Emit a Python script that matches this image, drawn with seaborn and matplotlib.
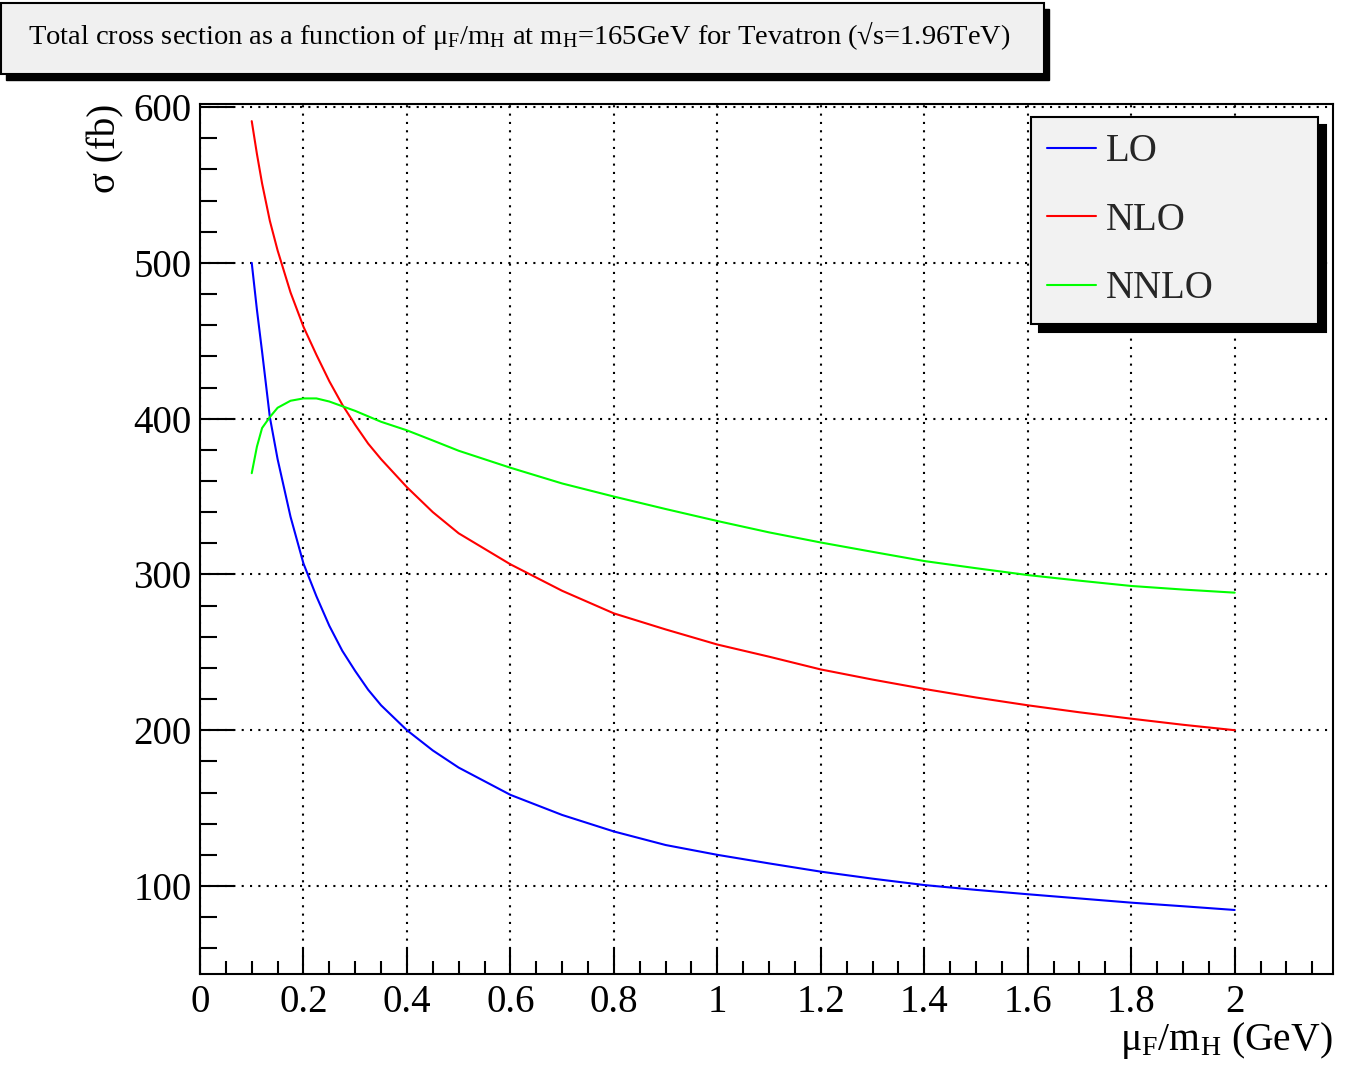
import numpy as np
import pandas as pd
import matplotlib
matplotlib.use("Agg")
import matplotlib.pyplot as plt
from matplotlib.patches import Rectangle
from matplotlib.ticker import MultipleLocator, FuncFormatter
import seaborn as sns

# scale ratio mu_F / m_H
mu_ratio = [0.10, 0.11, 0.12, 0.135, 0.15, 0.175, 0.20, 0.225, 0.25, 0.275,
            0.30, 0.325, 0.35, 0.40, 0.45, 0.50, 0.60, 0.70, 0.80, 0.90, 1.00,
            1.10, 1.20, 1.30, 1.40, 1.50, 1.60, 1.70, 1.80, 1.90, 2.00]

# total cross sections (fb)
sigma_lo = [500, 470, 443, 401, 374, 337, 307, 286, 267, 251,
            238, 226, 216, 200, 187, 176, 158.5, 145.6, 135, 126.3, 120,
            114.5, 109.2, 104.7, 100.6, 97.5, 94.7, 92, 89.3, 87, 84.6]
sigma_nlo = [591, 570, 551, 527, 508, 481, 459, 441, 424, 409,
             396, 384, 374, 356, 340, 326.4, 306.5, 289.5, 275, 264.7, 255,
             247.2, 239, 232.5, 226.5, 221, 216, 211.5, 207.4, 203.5, 200]
sigma_nnlo = [365, 382, 394, 401, 407, 411.5, 413, 413, 411, 408,
              405, 401.5, 398, 392.5, 386, 379.4, 368.5, 358.4, 350, 342, 334.3,
              327, 320.5, 314.5, 308.6, 304, 299.6, 296, 292.6, 290.3, 288.3]

orders = ["LO", "NLO", "NNLO"]
order_colors = {"LO": "#0000ff", "NLO": "#ff0000", "NNLO": "#00ff00"}

title_text = (r"Total cross section as a function of μ$_{\mathrm{F}}$/m$_{\mathrm{H}}$"
              r" at m$_{\mathrm{H}}$=165GeV for Tevatron (√s=1.96TeV)")
x_label = r"μ$_{\mathrm{F}}$/m$_{\mathrm{H}}$ (GeV)"
y_label = "σ (fb)"

df = pd.concat([
    pd.DataFrame({"mu": mu_ratio, "sigma": vals, "order": name})
    for name, vals in zip(orders, [sigma_lo, sigma_nlo, sigma_nnlo])
], ignore_index=True)

sns.set_theme(style="white")
plt.rcParams["font.family"] = ["Liberation Serif", "DejaVu Serif"]
plt.rcParams["mathtext.fontset"] = "custom"
plt.rcParams["mathtext.rm"] = "Liberation Serif"
plt.rcParams["mathtext.it"] = "Liberation Serif:italic"
plt.rcParams["mathtext.bf"] = "Liberation Serif:bold"

W, H = 1348, 1068
fig = plt.figure(figsize=(W / 100, H / 100), dpi=100)
fig.patch.set_facecolor("white")
ax = fig.add_axes([200 / W, 1 - 974 / H, 1133 / W, 870 / H])

sns.lineplot(data=df, x="mu", y="sigma", hue="order", hue_order=orders,
             palette=order_colors, linewidth=1.5, errorbar=None, ax=ax)

ax.set_xlim(0, 2.19)
ax.set_ylim(43.5, 602)

ax.xaxis.set_major_locator(MultipleLocator(0.2))
ax.xaxis.set_minor_locator(MultipleLocator(0.05))
ax.yaxis.set_major_locator(MultipleLocator(100))
ax.yaxis.set_minor_locator(MultipleLocator(20))
ax.xaxis.set_major_formatter(FuncFormatter(lambda v, p: f"{v:g}"))
ax.yaxis.set_major_formatter(FuncFormatter(lambda v, p: f"{v:g}"))

ax.tick_params(axis="both", which="both", direction="in", color="black",
               width=1.5, labelsize=28, labelcolor="black",
               bottom=True, left=True, top=False, right=False)
ax.tick_params(axis="x", which="major", length=18.7, pad=7)
ax.tick_params(axis="x", which="minor", length=9.4)
ax.tick_params(axis="y", which="major", length=24.5, pad=6)
ax.tick_params(axis="y", which="minor", length=12.2)

ax.grid(True, which="major", color="black", linestyle=(0, (1, 3)), linewidth=1.5)
for sp in ax.spines.values():
    sp.set_color("black")
    sp.set_linewidth(1.5)

ax.set_xlabel(x_label, fontsize=28.5, loc="right", color="black")
ax.xaxis.set_label_coords(1.0, -0.053)
ax.set_ylabel(y_label, fontsize=28, loc="top", color="black")
ax.yaxis.set_label_coords(-0.067, 1.0)

handles, labels = ax.get_legend_handles_labels()
leg = ax.legend(handles, labels, loc="upper left",
                bbox_to_anchor=((1031 - 200) / 1133, (974 - 117) / 870, (1318 - 1031) / 1133, 0),
                mode="expand", fontsize=28, frameon=True, fancybox=False,
                edgecolor="black", facecolor="#f2f2f2", framealpha=1,
                handlelength=1.26, handletextpad=0.25, borderpad=0.42,
                labelspacing=0.81, borderaxespad=0,
                shadow={"ox": 6, "oy": -6, "facecolor": "black",
                        "edgecolor": "black", "alpha": 1})
leg.get_frame().set_linewidth(1.5)
for ln in leg.get_lines():
    ln.set_linewidth(1.5)

# title box with drop shadow
fig.patches.append(Rectangle((6 / W, 1 - 80 / H), 1043 / W, 71 / H,
                             transform=fig.transFigure, facecolor="black",
                             edgecolor="black", zorder=1))
fig.patches.append(Rectangle((0.5 / W, 1 - 74 / H), 1043 / W, 71 / H,
                             transform=fig.transFigure, facecolor="#f0f0f0",
                             edgecolor="black", linewidth=1.5, zorder=2))
fig.text(28 / W, 1 - 44 / H, title_text, fontsize=20.5, ha="left",
         va="baseline", color="black", zorder=3)

fig.savefig("out.png", dpi=100, facecolor="white")
